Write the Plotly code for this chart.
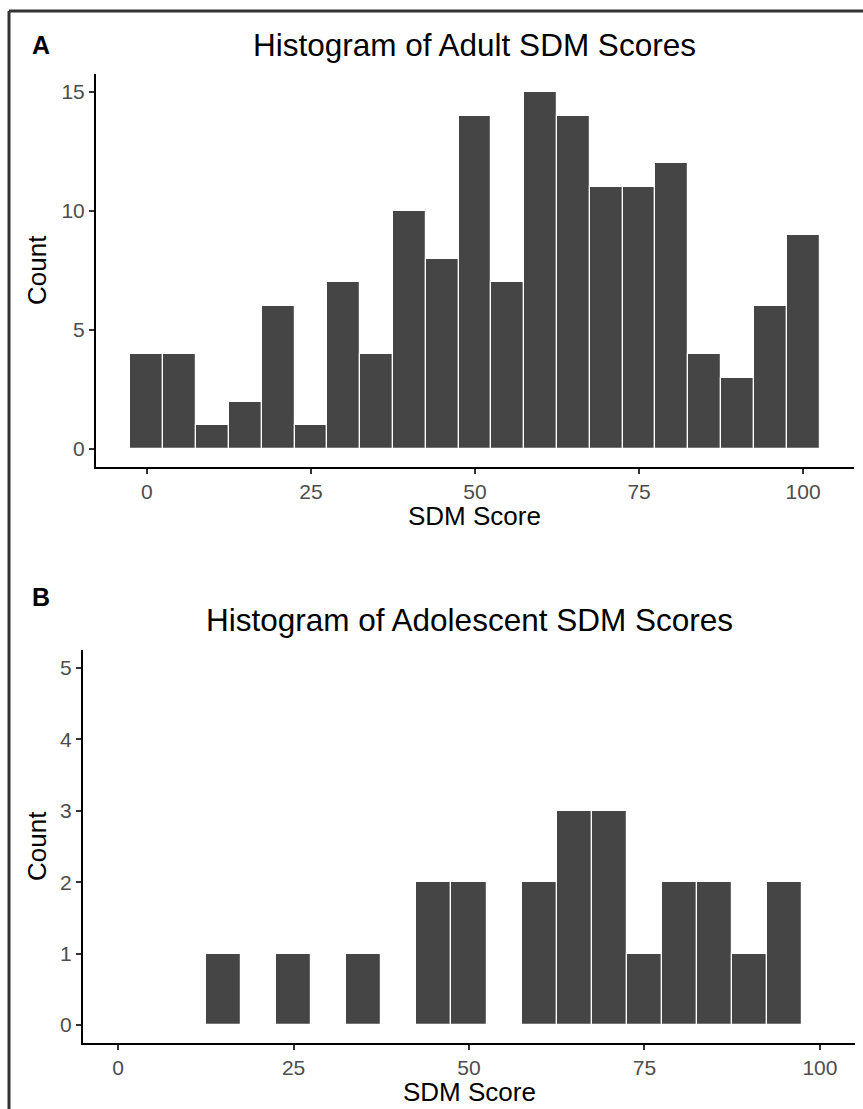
import plotly.graph_objects as go

# Data
adult_bins = [0, 5, 10, 15, 20, 25, 30, 35, 40, 45, 50, 55, 60, 65, 70, 75, 80, 85, 90, 95, 100]
adult_counts = [4, 4, 1, 2, 6, 1, 7, 4, 10, 8, 14, 7, 15, 14, 11, 11, 12, 4, 3, 6, 9]

adol_bins = [15, 25, 35, 45, 50, 60, 65, 70, 75, 80, 85, 90, 95]
adol_counts = [1, 1, 1, 2, 2, 2, 3, 3, 1, 2, 2, 1, 2]

x_ticks = [0, 25, 50, 75, 100]
adult_y_ticks = [0, 5, 10, 15]
adol_y_ticks = [0, 1, 2, 3, 4, 5]

W, H = 863, 1109
FONT = "Liberation Sans, Arial, Helvetica, sans-serif"
BAR = "#454545"
TICKC = "#4D4D4D"

def px(x):
    return x / W

def py(y):
    return 1 - y / H

fig = go.Figure()
fig.add_trace(go.Bar(x=adult_bins, y=adult_counts, width=5,
                     marker=dict(color=BAR, line=dict(color="white", width=1.2)),
                     xaxis="x", yaxis="y", showlegend=False))
fig.add_trace(go.Bar(x=adol_bins, y=adol_counts, width=5,
                     marker=dict(color=BAR, line=dict(color="white", width=1.2)),
                     xaxis="x2", yaxis="y2", showlegend=False))

axis_common = dict(showline=True, linecolor="black", linewidth=2, ticks="outside",
                   ticklen=5, tickwidth=2, tickcolor="#333333", showgrid=False,
                   zeroline=False,
                   tickfont=dict(family=FONT, size=21, color=TICKC))

fig.update_layout(
    width=W, height=H,
    margin=dict(l=0, r=0, t=0, b=0),
    paper_bgcolor="white", plot_bgcolor="white",
    bargap=0,
    xaxis=dict(domain=[px(96), px(854)], range=[-7.75, 107.75], tickvals=x_ticks,
               anchor="y", **axis_common),
    yaxis=dict(domain=[py(467), py(74)], range=[-0.75, 15.75], tickvals=adult_y_ticks,
               anchor="x", **axis_common),
    xaxis2=dict(domain=[px(83), px(855)], range=[-5, 105], tickvals=x_ticks,
                anchor="y2", **axis_common),
    yaxis2=dict(domain=[py(1043), py(650)], range=[-0.25, 5.25], tickvals=adol_y_ticks,
                anchor="x2", **axis_common),
)

ann = []
def text(x, y, s, size, bold=False, angle=0, color="black"):
    ann.append(dict(x=px(x), y=py(y), xref="paper", yref="paper", text=("<b>%s</b>" % s) if bold else s,
                    showarrow=False, xanchor="center", yanchor="middle", textangle=angle,
                    font=dict(family=FONT, size=size, color=color)))

text(41, 45, "A", 25, bold=True)
text(41, 597, "B", 25, bold=True)
text(475, 45, "Histogram of Adult SDM Scores", 31.5)
text(469, 620, "Histogram of Adolescent SDM Scores", 31.5)
text(475, 516, "SDM Score", 26)
text(469, 1092, "SDM Score", 26)
text(37, 270, "Count", 26, angle=-90)
text(37, 846, "Count", 26, angle=-90)
fig.update_layout(annotations=ann)

# outer frame (top and left edges)
fig.add_shape(type="line", xref="paper", yref="paper", x0=px(9), x1=1.0, y0=py(11), y1=py(11),
              line=dict(color="#333333", width=3))
fig.add_shape(type="line", xref="paper", yref="paper", x0=px(9), x1=px(9), y0=py(11), y1=0,
              line=dict(color="#333333", width=3))

fig.write_html("out.html", config={"displayModeBar": False},
               post_script="document.body.style.margin='0';document.body.style.overflow='hidden';")
